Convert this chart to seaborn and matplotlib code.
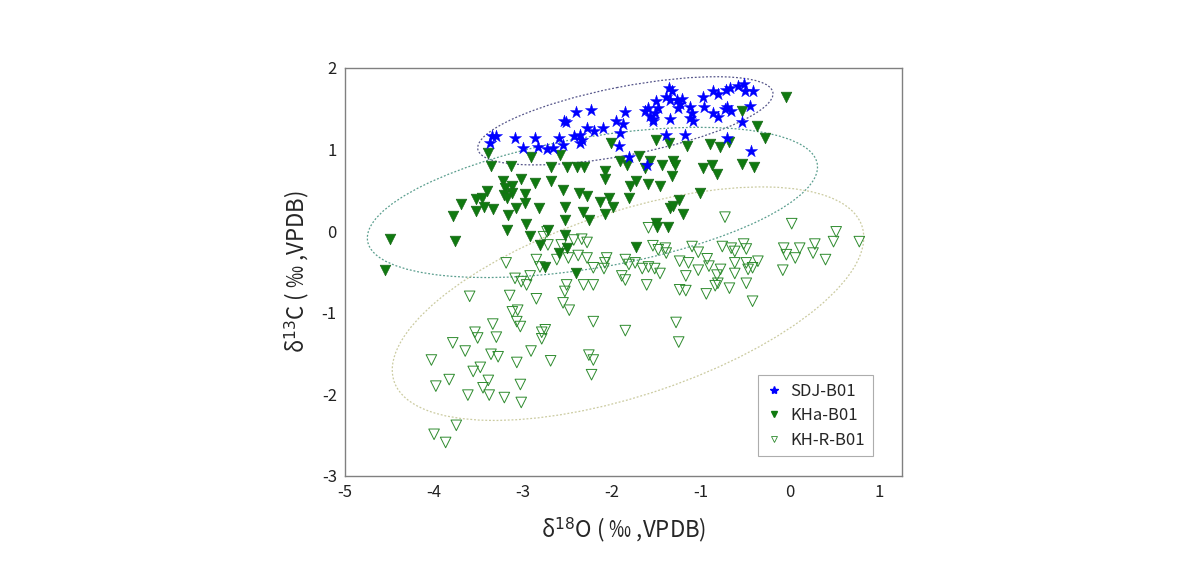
import numpy as np
import seaborn as sns
import matplotlib.pyplot as plt
from matplotlib.patches import Ellipse
from matplotlib.lines import Line2D
from matplotlib.ticker import MultipleLocator

# SDJ-B01 (stars)
sdj_x = [-3.35, -3.30, -3.37, -3.09, -3.00, -2.87, -2.83, -2.73, -2.66, -2.60,
         -2.55, -2.52, -2.54, -2.43, -2.40, -2.36, -2.34, -2.36, -2.28, -2.24,
         -2.20, -2.10, -1.95, -1.88, -1.91, -1.85, -1.92, -1.81, -1.61, -1.63,
         -1.59, -1.57, -1.54, -1.52, -1.50, -1.48, -1.54, -1.36, -1.33, -1.39,
         -1.35, -1.27, -1.26, -1.21, -1.24, -1.35, -1.39, -1.18, -1.12, -1.10,
         -1.12, -1.09, -0.98, -0.97, -0.86, -0.81, -0.72, -0.67, -0.71, -0.73,
         -0.66, -0.86, -0.81, -0.58, -0.52, -0.51, -0.41, -0.45, -0.54, -0.71,
         -0.44]
sdj_y = [1.16, 1.16, 1.08, 1.14, 1.02, 1.14, 1.03, 1.01, 1.02, 1.14,
         1.05, 1.33, 1.35, 1.16, 1.46, 1.18, 1.12, 1.08, 1.26, 1.48,
         1.22, 1.26, 1.35, 1.31, 1.20, 1.46, 1.04, 0.91, 0.81, 1.47,
         1.51, 1.41, 1.37, 1.45, 1.59, 1.51, 1.35, 1.75, 1.71, 1.64,
         1.60, 1.61, 1.51, 1.62, 1.56, 1.37, 1.18, 1.18, 1.52, 1.45,
         1.39, 1.35, 1.64, 1.52, 1.72, 1.68, 1.73, 1.75, 1.52, 1.49,
         1.47, 1.45, 1.40, 1.78, 1.80, 1.72, 1.71, 1.53, 1.33, 1.14,
         0.98]

# KHa-B01 (filled triangles)
kha_x = [-3.39, -3.14, -3.36, -2.91, -2.68, -2.58, -2.51, -2.39, -2.31, -2.08,
         -2.01, -1.91, -1.83, -1.70, -1.63, -1.57, -1.51, -1.44, -1.36, -1.31,
         -1.29, -1.16, -0.98, -0.90, -0.88, -0.79, -0.69, -0.54, -0.40, -0.54,
         -0.37, -0.28, -0.04, -3.22, -3.12, -3.02, -2.87, -2.69, -3.20, -3.40,
         -3.46, -3.53, -3.21, -3.12, -2.98, -3.18, -2.55, -2.37, -2.28, -2.13,
         -2.03, -1.81, -3.70, -3.53, -3.44, -3.34, -3.08, -2.98, -2.82, -2.53,
         -1.99, -3.79, -3.17, -2.33, -2.26, -2.08, -2.53, -2.97, -3.18, -4.50,
         -3.76, -2.92, -2.72, -2.53, -2.81, -2.51, -2.60, -1.73, -2.75, -2.40,
         -4.55, -2.08, -1.73, -1.80, -1.59, -1.46, -1.33, -0.82, -1.25, -1.35,
         -1.31, -1.20, -1.01, -1.50, -1.49, -1.37]
kha_y = [0.96, 0.80, 0.80, 0.91, 0.78, 0.93, 0.78, 0.78, 0.78, 0.73,
         1.08, 0.86, 0.81, 0.92, 0.77, 0.86, 1.12, 0.81, 1.08, 0.86,
         0.81, 1.04, 0.77, 1.06, 0.81, 1.03, 1.09, 0.82, 0.78, 1.47,
         1.29, 1.14, 1.64, 0.61, 0.55, 0.64, 0.59, 0.61, 0.53, 0.49,
         0.41, 0.39, 0.44, 0.46, 0.45, 0.40, 0.50, 0.47, 0.43, 0.35,
         0.40, 0.40, 0.33, 0.25, 0.29, 0.27, 0.28, 0.34, 0.28, 0.29,
         0.29, 0.19, 0.20, 0.23, 0.14, 0.21, 0.14, 0.09, 0.01, -0.10,
         -0.12, -0.06, 0.01, -0.05, -0.17, -0.21, -0.27, -0.20, -0.44, -0.51,
         -0.48, 0.64, 0.61, 0.55, 0.58, 0.55, 0.67, 0.70, 0.38, 0.28,
         0.31, 0.21, 0.47, 0.10, 0.05, 0.05]

# KH-R-B01 (open triangles)
khr_x = [-2.73, -2.77, -2.72, -2.57, -2.43, -2.34, -2.28, -3.19, -2.85, -2.81,
         -2.62, -2.49, -2.38, -2.28, -2.21, -2.08, -2.06, -1.85, -1.81, -1.74,
         -3.09, -3.02, -2.92, -2.96, -2.51, -2.32, -2.21, -1.89, -3.60, -3.15,
         -2.85, -2.53, -1.85, -1.61, -2.55, -2.48, -3.12, -3.06, -3.07, -3.03,
         -2.21, -1.85, -3.34, -3.54, -3.51, -3.30, -2.79, -2.75, -2.79, -3.79,
         -3.65, -3.36, -3.28, -2.91, -3.07, -2.69, -2.26, -2.21, -2.23, -4.03,
         -3.48, -3.56, -3.83, -3.98, -3.39, -3.45, -3.38, -3.03, -3.62, -3.21,
         -3.02, -3.75, -4.00, -3.87, -0.73, 0.02, 0.52, 0.49, 0.78, -1.59,
         -1.54, -1.48, -1.40, -1.39, -1.10, -1.03, -0.76, -0.66, -0.62, -0.52,
         -0.49, -0.07, -0.04, 0.06, 0.11, 0.28, 0.26, 0.40, -2.09, -1.66,
         -1.59, -1.52, -1.46, -1.24, -1.14, -0.93, -0.91, -1.03, -1.17, -0.78,
         -0.82, -0.62, -0.62, -0.49, -0.47, -0.36, -0.42, -0.49, -0.08, -1.24,
         -1.17, -0.94, -0.84, -0.81, -0.68, -0.42, -1.28, -1.25]
khr_y = [-0.01, -0.07, -0.17, -0.17, -0.11, -0.10, -0.14, -0.39, -0.35, -0.44,
         -0.35, -0.33, -0.30, -0.33, -0.45, -0.39, -0.33, -0.35, -0.41, -0.39,
         -0.58, -0.62, -0.55, -0.66, -0.66, -0.66, -0.66, -0.55, -0.80, -0.79,
         -0.83, -0.74, -0.60, -0.66, -0.88, -0.97, -0.99, -0.97, -1.11, -1.17,
         -1.11, -1.22, -1.14, -1.24, -1.31, -1.30, -1.24, -1.21, -1.32, -1.37,
         -1.47, -1.51, -1.54, -1.47, -1.61, -1.59, -1.52, -1.58, -1.76, -1.58,
         -1.67, -1.72, -1.82, -1.90, -1.83, -1.92, -2.01, -1.88, -2.01, -2.04,
         -2.10, -2.38, -2.49, -2.59, 0.17, 0.09, -0.01, -0.13, -0.13, 0.04,
         -0.18, -0.23, -0.21, -0.27, -0.19, -0.26, -0.19, -0.21, -0.25, -0.16,
         -0.22, -0.21, -0.29, -0.33, -0.21, -0.16, -0.27, -0.35, -0.46, -0.46,
         -0.44, -0.46, -0.52, -0.37, -0.39, -0.34, -0.43, -0.48, -0.55, -0.47,
         -0.54, -0.39, -0.52, -0.39, -0.47, -0.37, -0.45, -0.64, -0.48, -0.72,
         -0.73, -0.77, -0.67, -0.64, -0.70, -0.86, -1.12, -1.36]

# ellipse outlines: centre, half-extent x/y, xy term
ell_center = [(-1.85, 1.35), (-2.22, 0.35), (-1.82, -0.89)]
ell_half = [(1.66, 0.54), (2.53, 0.92), (2.65, 1.43)]
ell_xy = [0.55, 1.10, 2.15]
ell_colors = ["#55558a", "#5a9e8e", "#cbcba0"]

sns.set_style("white")
plt.rcParams['font.family'] = ['Noto Sans CJK KR', 'DejaVu Sans']
plt.rcParams['axes.unicode_minus'] = False

fig = plt.figure(figsize=(11.9, 5.79), dpi=100)
ax = fig.add_axes([0.290, 0.178, 0.468, 0.705])

for (cx, cy), (hx, hy), sxy, col in zip(ell_center, ell_half, ell_xy, ell_colors):
    cov = np.array([[hx ** 2, sxy], [sxy, hy ** 2]])
    vals, vecs = np.linalg.eigh(cov)
    ang = np.degrees(np.arctan2(vecs[1, 1], vecs[0, 1]))
    ax.add_patch(Ellipse((cx, cy), 2 * np.sqrt(vals[1]), 2 * np.sqrt(vals[0]),
                         angle=ang, fill=False, ls=(0, (1.5, 1.5)), lw=0.9,
                         color=col, zorder=1))

sns.scatterplot(x=khr_x, y=khr_y, marker="v", s=58, color="none",
                edgecolor="#2e8b2e", linewidth=0.7, ax=ax, zorder=2)
sns.scatterplot(x=kha_x, y=kha_y, marker="v", s=58, color="#107a10",
                edgecolor="#1a6b1a", linewidth=0.5, ax=ax, zorder=3)
sns.scatterplot(x=sdj_x, y=sdj_y, marker="*", s=85, color="#0000ff",
                edgecolor="#0000ff", linewidth=0.3, ax=ax, zorder=4)

ax.set_xlim(-5, 1.26)
ax.set_ylim(-3, 2)
ax.xaxis.set_major_locator(MultipleLocator(1))
ax.xaxis.set_minor_locator(MultipleLocator(0.5))
ax.yaxis.set_major_locator(MultipleLocator(1))
ax.yaxis.set_minor_locator(MultipleLocator(0.5))
ax.tick_params(which="both", direction="in", length=5, width=0.8, color="#808080",
               labelsize=12, labelcolor="#222222", pad=6)
for sp in ax.spines.values():
    sp.set_color("#808080")
    sp.set_linewidth(1.0)

ax.set_xlabel("δ$^{18}$O ( ‰ ,VPDB)", fontsize=16, labelpad=10)
ax.set_ylabel("δ$^{13}$C ( ‰ ,VPDB)", fontsize=16, labelpad=8)

handles = [
    Line2D([], [], ls="none", marker="*", ms=6, color="#0000ff", label="SDJ-B01"),
    Line2D([], [], ls="none", marker="v", ms=5, color="#107a10", label="KHa-B01"),
    Line2D([], [], ls="none", marker="v", ms=5, mfc="none", mec="#2e8b2e",
           mew=0.6, label="KH-R-B01"),
]
leg = ax.legend(handles=handles, loc="lower right", bbox_to_anchor=(0.962, 0.028),
                fontsize=12, frameon=True, fancybox=False, edgecolor="#999999",
                handletextpad=0.5, borderpad=0.45, labelspacing=0.45, handlelength=1.0)
leg.get_frame().set_linewidth(0.8)

fig.savefig("out.png", dpi=100)
